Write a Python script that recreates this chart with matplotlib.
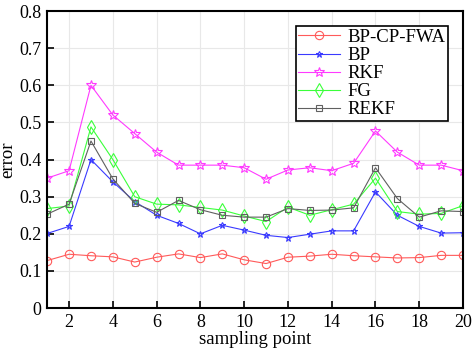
import matplotlib
matplotlib.use('Agg')
import matplotlib.pyplot as plt
import numpy as np

plt.rcParams['font.family'] = ['Liberation Serif', 'DejaVu Serif']
plt.rcParams['mathtext.fontset'] = 'stix'

x = np.arange(1, 21)

bp_cp_fwa = [0.128, 0.145, 0.141, 0.138, 0.124, 0.137, 0.146, 0.136, 0.146, 0.130,
             0.120, 0.137, 0.140, 0.145, 0.141, 0.138, 0.135, 0.136, 0.142, 0.142]
bp = [0.201, 0.220, 0.400, 0.340, 0.287, 0.250, 0.228, 0.200, 0.223, 0.210,
      0.196, 0.190, 0.199, 0.208, 0.208, 0.313, 0.250, 0.220, 0.202, 0.203]
rkf = [0.350, 0.370, 0.600, 0.520, 0.470, 0.420, 0.385, 0.385, 0.385, 0.378,
       0.347, 0.372, 0.378, 0.370, 0.390, 0.477, 0.420, 0.385, 0.385, 0.370]
fg = [0.268, 0.275, 0.488, 0.400, 0.300, 0.280, 0.278, 0.271, 0.264, 0.248,
      0.233, 0.272, 0.250, 0.265, 0.280, 0.350, 0.260, 0.253, 0.255, 0.276]
rekf = [0.253, 0.280, 0.450, 0.348, 0.282, 0.258, 0.290, 0.265, 0.250, 0.245,
        0.245, 0.268, 0.263, 0.264, 0.270, 0.378, 0.295, 0.245, 0.262, 0.260]

fig = plt.figure(figsize=(4.72, 3.57), dpi=100)
ax = fig.add_axes([0.10, 0.137, 0.881, 0.832])

ax.plot(x, bp_cp_fwa, color='#ff5a5a', marker='o', mfc='none', ms=6, lw=0.8, mew=0.8, label='BP-CP-FWA')
ax.plot(x, bp, color='#3a3aff', marker='*', mfc='none', ms=5, lw=0.8, mew=0.8, label='BP')
ax.plot(x, rkf, color='#ff3aff', marker='*', mfc='none', ms=7.5, lw=0.8, mew=0.8, label='RKF')
ax.plot(x, fg, color='#3aff3a', marker='d', mfc='none', ms=7, lw=0.8, mew=0.8, label='FG')
ax.plot(x, rekf, color='#606060', marker='s', mfc='none', ms=5, lw=0.8, mew=0.8, label='REKF')

ax.set_xlim(1, 20)
ax.set_ylim(0, 0.8)
ax.set_xticks(np.arange(2, 21, 2))
ax.set_yticks(np.arange(0, 0.81, 0.1))
ax.set_yticklabels(['0', '0.1', '0.2', '0.3', '0.4', '0.5', '0.6', '0.7', '0.8'])
ax.tick_params(direction='in', labelsize=13, length=5, width=1.2, pad=4)
ax.grid(color='#e8e8e8', lw=0.8)
for s in ax.spines.values():
    s.set_linewidth(1.5)

ax.set_xlabel('sampling point', fontsize=13.5, labelpad=0)
ax.set_ylabel('error', fontsize=13.5)
ax.yaxis.set_label_coords(-0.075, 0.5)

leg = ax.legend(loc='upper right', fontsize=13.5, fancybox=False, edgecolor='black',
                framealpha=1, handlelength=2.2, borderpad=0.15, labelspacing=0.05,
                handletextpad=0.4, borderaxespad=0.8)
leg.get_frame().set_linewidth(1.2)

fig.savefig('out.png', dpi=100)
